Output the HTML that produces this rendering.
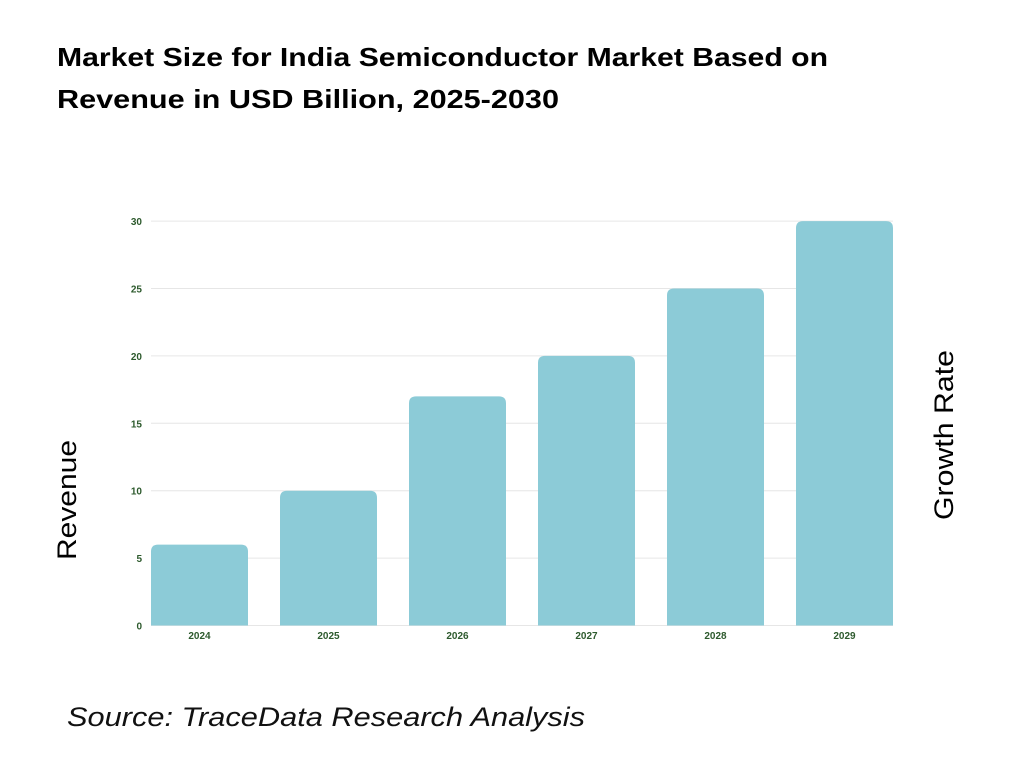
<!DOCTYPE html>
<html><head><meta charset="utf-8"><style>
body{margin:0;background:#fff;width:1024px;height:768px;overflow:hidden;font-family:"Liberation Sans",sans-serif}
</style></head><body>
<svg width="1024" height="768">
<text x="57" y="66" font-size="26" font-weight="bold" fill="#000" textLength="771" lengthAdjust="spacingAndGlyphs">Market Size for India Semiconductor Market Based on</text>
<text x="57" y="108" font-size="26" font-weight="bold" fill="#000" textLength="502" lengthAdjust="spacingAndGlyphs">Revenue in USD Billion, 2025-2030</text>
<text transform="translate(76,500) rotate(-90)" text-anchor="middle" font-size="27" fill="#000" textLength="120" lengthAdjust="spacingAndGlyphs">Revenue</text>
<text transform="translate(953,435) rotate(-90)" text-anchor="middle" font-size="27" fill="#000" textLength="170" lengthAdjust="spacingAndGlyphs">Growth Rate</text>
<text x="67" y="726" font-size="27" font-style="italic" fill="#111" textLength="518" lengthAdjust="spacingAndGlyphs">Source: TraceData Research Analysis</text>
<g id="grid"></g><g id="bars"></g><g id="labels"></g>
</svg>
<script>
const categories=["2024","2025","2026","2027","2028","2029"];
const revenue=[6,10,17,20,25,30];
const ticks=[0,5,10,15,20,25,30];
const NS="http://www.w3.org/2000/svg";
const y=v=>625.5-v*13.48;
const x=i=>151+i*129;
const bw=97;
function mk(t,a,p){const e=document.createElementNS(NS,t);for(const k in a)e.setAttribute(k,a[k]);p.appendChild(e);return e;}
const g=document.getElementById('grid'),b=document.getElementById('bars'),l=document.getElementById('labels');
ticks.forEach(t=>{
 const ln=mk('line',{x1:151,x2:893,y1:y(t),y2:y(t),stroke:'#e6e6e6','stroke-width':1},g);
 
 
 const tx=mk('text',{x:142,y:y(t)+4,'text-anchor':'end','font-size':10,'font-weight':'bold',fill:'#2d5a2d'},l);
 tx.textContent=t;
 
 
});
categories.forEach((c,i)=>{
 const top=y(revenue[i]),r=7,x0=x(i);
 const p=mk('path',{d:`M${x0},625.5V${top+r}Q${x0},${top} ${x0+r},${top}H${x0+bw-r}Q${x0+bw},${top} ${x0+bw},${top+r}V625.5Z`,fill:'#8ccbd7'},b);
 
 
 const tx=mk('text',{x:x0+bw/2,y:639,'text-anchor':'middle','font-size':10,'font-weight':'bold',fill:'#2d5a2d'},l);
 tx.textContent=c;
 
 
});
</script>
</body></html>
